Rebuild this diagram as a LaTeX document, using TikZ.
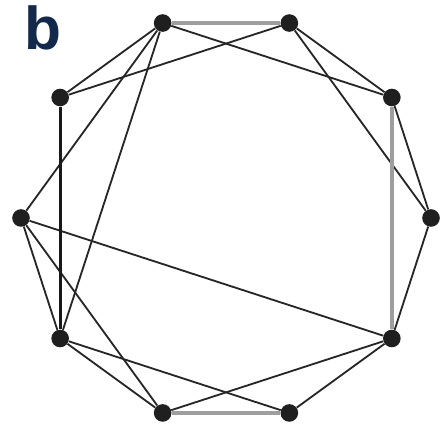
\documentclass[tikz,border=0pt]{standalone}
\usepackage{fontspec}
\setsansfont{Liberation Sans}
\usetikzlibrary{calc}
\definecolor{labelblue}{HTML}{13294B}
\tikzset{
    vertex/.style={circle, fill=black!88, inner sep=0pt, minimum size=0.44cm},
    edge/.style={line width=1.3pt, black!85},
    greyedge/.style={line width=2.6pt, black!38},
    boldedge/.style={line width=2pt, black!90},
}
\begin{document}
\begin{tikzpicture}[x=0.025cm, y=0.025cm]
    \useasboundingbox (0,0) rectangle (442,425);
    \node[font=\sffamily\bfseries\fontsize{43}{43}\selectfont, text=labelblue, anchor=north west, inner sep=0pt] (lbl) at (24,420) {b};
    \foreach \n [count=\i from 0] in {D,C,B,A,J,I,H,G,F,E} {
        \node[vertex] (\n) at ($(226,207)+({36*\i}:205)$) {};
    }
    \foreach \a/\b in {A/C, A/J, A/I, A/H, B/J, B/C, B/D, C/D, D/E, E/I, E/F, E/G, F/H, G/H, G/I, H/I} {
        \draw[edge] (\a) -- (\b);
    }
    \draw[greyedge] (A) -- (B);
    \draw[greyedge] (C) -- (E);
    \draw[greyedge] (F) -- (G);
    \draw[boldedge] (J) -- (H);
\end{tikzpicture}
\end{document}
